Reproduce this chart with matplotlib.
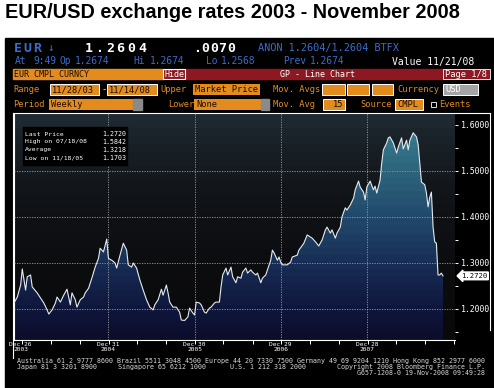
import numpy as np
import pandas as pd
import matplotlib
matplotlib.use('Agg')
import matplotlib.pyplot as plt
import matplotlib.dates as mdates
import matplotlib.transforms as mtransforms
from matplotlib.patches import Rectangle

# weekly EUR/USD closes
start = pd.Timestamp('2003-11-28')
end = pd.Timestamp('2008-11-14')
weeks = [
    0, 2, 4, 5, 7, 8, 10, 11, 14, 16,
    18, 20, 21, 23, 25, 26, 28, 30, 32, 34,
    35, 37, 38, 40, 42, 43, 45, 47, 49, 51,
    52, 54, 56, 57, 59, 61, 62, 64, 66, 68,
    69, 71, 72, 74, 76, 78, 80, 82, 84, 85,
    87, 89, 90, 92, 93, 94, 96, 98, 100, 101,
    103, 105, 106, 108, 109, 110, 112, 113, 115, 116,
    118, 119, 121, 122, 124, 125, 126, 128, 129, 131,
    132, 134, 135, 137, 138, 140, 141, 143, 144, 146,
    147, 149, 150, 152, 153, 155, 156, 157, 159, 160,
    161, 162, 165, 167, 168, 171, 172, 173, 175, 177,
    180, 182, 184, 186, 188, 189, 191, 192, 194, 195,
    197, 198, 200, 201, 203, 205, 206, 208, 209, 211,
    212, 213, 215, 217, 218, 219, 221, 222, 223, 225,
    226, 227, 229, 231, 232, 234, 235, 237, 238, 239,
    241, 243, 244, 245, 246, 248, 249, 250, 251, 252,
    253, 254, 255, 256, 257, 258, 259]
rates = [
    1.213, 1.226, 1.252, 1.287, 1.241, 1.270, 1.274, 1.248, 1.235, 1.224,
    1.213, 1.198, 1.189, 1.198, 1.213, 1.226, 1.215, 1.230, 1.243, 1.209,
    1.235, 1.220, 1.204, 1.220, 1.226, 1.235, 1.245, 1.267, 1.291, 1.310,
    1.332, 1.324, 1.352, 1.310, 1.306, 1.300, 1.289, 1.317, 1.343, 1.328,
    1.296, 1.291, 1.300, 1.289, 1.263, 1.241, 1.220, 1.204, 1.198, 1.209,
    1.220, 1.243, 1.230, 1.252, 1.235, 1.215, 1.204, 1.204, 1.193, 1.176,
    1.175, 1.183, 1.202, 1.191, 1.187, 1.215, 1.213, 1.209, 1.193, 1.191,
    1.202, 1.204, 1.213, 1.215, 1.215, 1.248, 1.274, 1.289, 1.274, 1.291,
    1.270, 1.257, 1.270, 1.267, 1.280, 1.289, 1.278, 1.285, 1.280, 1.274,
    1.278, 1.257, 1.267, 1.274, 1.285, 1.306, 1.328, 1.322, 1.306, 1.313,
    1.302, 1.296, 1.296, 1.302, 1.313, 1.317, 1.328, 1.333, 1.343, 1.361,
    1.354, 1.346, 1.337, 1.350, 1.372, 1.378, 1.365, 1.372, 1.354, 1.365,
    1.378, 1.400, 1.420, 1.415, 1.426, 1.441, 1.459, 1.478, 1.465, 1.454,
    1.437, 1.465, 1.478, 1.459, 1.467, 1.452, 1.480, 1.517, 1.546, 1.561,
    1.572, 1.574, 1.561, 1.539, 1.552, 1.572, 1.548, 1.567, 1.546, 1.567,
    1.583, 1.574, 1.557, 1.517, 1.476, 1.470, 1.452, 1.422, 1.443, 1.454,
    1.378, 1.346, 1.343, 1.274, 1.274, 1.278, 1.272]

y_major = [1.2, 1.3, 1.4, 1.5, 1.6]
y_minor = [1.15, 1.25, 1.35, 1.45, 1.55]
grid_levels = [1.2, 1.3, 1.4, 1.5]
label_dates = ['2003-12-26', '2004-12-31', '2005-12-30', '2006-12-29', '2007-12-28']
label_text = ['Dec 26\n2003', 'Dec 31\n2004', 'Dec 30\n2005', 'Dec 29\n2006', 'Dec 28\n2007']
legend_rows = [('Last Price', '1.2720'), ('High on 07/18/08', '1.5842'),
               ('Average', '1.3218'), ('Low on 11/18/05', '1.1703')]
last_tag = '1.2720'

W, H = 494, 388
mono = 'DejaVu Sans Mono'
blue = '#3b6cc9'
orange = '#e48b1e'
dred = '#8e1822'
boxtxt = '#1a0c00'

fig = plt.figure(figsize=(W / 100, H / 100), dpi=100, facecolor='white')


def px_axes(z):
    a = fig.add_axes([0, 0, 1, 1], zorder=z)
    a.set_xlim(0, W)
    a.set_ylim(H, 0)
    a.axis('off')
    a.patch.set_alpha(0)
    return a


def spaced(a, x, y, s, pitch, **kw):
    for i, ch in enumerate(s):
        a.text(x + (i + 0.5) * pitch, y, ch, ha='center', va='center', **kw)


under = px_axes(0)
title = under.text(5, 12, 'EUR/USD exchange rates 2003 - November 2008', fontsize=13,
                   fontweight='bold', family='Liberation Sans', va='center', color='black')
fig.canvas.draw()
tw = title.get_window_extent().width
title.set_fontsize(13 * 453 / tw)

under.add_patch(Rectangle((5, 38), W - 5, H - 38, color='black'))

# header row 1
spaced(under, 13, 48, 'EUR', 9.5, color=blue, fontsize=9.5, fontweight='bold', family=mono)
under.text(47, 48, '\u2193', color=blue, fontsize=8, va='center', family=mono)
spaced(under, 83, 48, '1.2604', 10.7, color='white', fontsize=9.5, fontweight='bold', family=mono)
spaced(under, 193, 48, '.0070', 8.4, color='white', fontsize=9.5, fontweight='bold', family=mono)
under.text(258, 47.5, 'ANON 1.2604/1.2604 BTFX', color=blue, fontsize=7.4, family=mono, va='center')

# header row 2
for x, s in [(15, 'At'), (33, '9:49'), (59, 'Op'), (75, '1.2674'), (133, 'Hi'), (150, '1.2674'),
             (206, 'Lo'), (221, '1.2568'), (283, 'Prev'), (310, '1.2674')]:
    under.text(x, 61.5, s, color=blue, fontsize=6.9, family=mono, va='center')
under.text(392, 61.5, 'Value 11/21/08', color='white', fontsize=7.0, family=mono, va='center')

# header row 3
under.add_patch(Rectangle((13, 69.3), 150, 10, color=orange))
under.text(14, 74.3, 'EUR CMPL CURNCY', color=boxtxt, fontsize=6, family=mono, va='center')
under.add_patch(Rectangle((185, 69.3), 258, 10, color=dred))
under.add_patch(Rectangle((163, 69.3), 22, 10, fc=dred, ec='white', lw=0.8))
under.text(174, 74.3, 'Hide', color='white', fontsize=6, family=mono, va='center', ha='center')
under.text(317, 74.3, 'GP - Line Chart', color='white', fontsize=6, family=mono, va='center', ha='center')
under.add_patch(Rectangle((443, 69.3), 47, 10, fc=dred, ec='white', lw=0.6))
under.text(445, 74.3, 'Page 1/8', color='white', fontsize=6.3, family=mono, va='center')

# header row 4
r4, h4 = 84.3, 10.7
for x, s in [(13, 'Range'), (160, 'Upper'), (273, 'Mov. Avgs'), (397, 'Currency')]:
    under.text(x, r4 + h4 / 2, s, color=orange, fontsize=6.3, family=mono, va='center')
under.text(101, r4 + h4 / 2, '-', color='white', fontsize=6.3, family=mono, va='center')
for x, w, s, edge in [(50, 49, '11/28/03', 'white'), (107, 50, '11/14/08', 'white'),
                      (193, 67, 'Market Price', 'none'), (322, 23, '', 'white'),
                      (347, 22, '', 'white'), (372, 21, '', 'white')]:
    under.add_patch(Rectangle((x, r4), w, h4, fc=orange, ec=edge, lw=0.7))
    under.text(x + 2, r4 + h4 / 2, s, color=boxtxt, fontsize=6.3, family=mono, va='center')
under.add_patch(Rectangle((443, r4), 35, h4, fc='#a4a4a4', ec='white', lw=0.7))
under.text(445, r4 + h4 / 2, 'USD', color='white', fontsize=6.3, family=mono, va='center')

# header row 5
r5, h5 = 99, 10.5
for x, s in [(13, 'Period'), (168, 'Lower'), (273, 'Mov. Avg'), (360, 'Source'), (439, 'Events')]:
    under.text(x, r5 + h5 / 2, s, color=orange, fontsize=6.3, family=mono, va='center')
for x, w, s, edge in [(49, 84, 'Weekly', 'none'), (194, 67, 'None', 'none'),
                      (395, 28, 'CMPL', 'white')]:
    under.add_patch(Rectangle((x, r5), w, h5, fc=orange, ec=edge, lw=0.7))
    under.text(x + 2, r5 + h5 / 2, s, color=boxtxt, fontsize=6.3, family=mono, va='center')
under.add_patch(Rectangle((323, r5), 22, h5, fc=orange, ec='white', lw=0.7))
under.text(343, r5 + h5 / 2, '15', color=boxtxt, fontsize=6.3, family=mono, va='center', ha='right')
for x, w in [(133, 9), (261, 8)]:
    under.add_patch(Rectangle((x, r5), w, h5, color='#8a8a8a'))
under.add_patch(Rectangle((431, r5 + 2.5), 5, 5, fc='none', ec='white', lw=0.6))

# footer
foot = dict(color='#d8d8d8', fontsize=4.8, family=mono, va='center')
under.text(17, 361, 'Australia 61 2 9777 8600 Brazil 5511 3048 4500 Europe 44 20 7330 7500 '
           'Germany 49 69 9204 1210 Hong Kong 852 2977 6000', **foot)
under.text(17, 367, 'Japan 81 3 3201 8900', **foot)
under.text(118, 367, 'Singapore 65 6212 1000', **foot)
under.text(230, 367, 'U.S. 1 212 318 2000', **foot)
under.text(485, 367, 'Copyright 2008 Bloomberg Finance L.P.', ha='right', **foot)
under.text(485, 373, 'G657-1208-0 19-Nov-2008 09:49:28', ha='right', **foot)

# chart
ax = fig.add_axes([14 / W, 1 - 340 / H, 441 / W, 227 / H], zorder=1)
ax.set_facecolor('black')
dates = start + pd.to_timedelta(np.array(weeks) * 7, unit='D')
xlo = start
xhi = start + (end - start) * (441 / 429)
ylo, yhi = 1.1326, 1.626
x0n, x1n = mdates.date2num(xlo), mdates.date2num(xhi)


def banded(anchor_v, anchor_rgb, n):
    v = np.linspace(yhi, ylo, n)
    rgb = np.array(anchor_rgb) / 255
    return np.stack([np.interp(v, anchor_v, rgb[:, k]) for k in range(3)], axis=-1)[:, None, :]


bg = banded([1.13, 1.30, 1.45, 1.55, 1.63],
            [(9, 9, 11), (12, 13, 15), (17, 20, 24), (24, 31, 37), (31, 42, 50)], 30)
ax.imshow(bg, extent=(x0n, x1n, ylo, yhi), aspect='auto', interpolation='nearest', zorder=0.5)

poly = ax.fill_between(dates, rates, ylo, facecolor='none', edgecolor='none')
fill = banded([1.13, 1.20, 1.30, 1.40, 1.50, 1.62],
              [(11, 13, 42), (16, 23, 62), (24, 46, 86), (33, 73, 107), (45, 99, 124), (60, 128, 146)], 32)
im = ax.imshow(fill, extent=(x0n, x1n, ylo, yhi), aspect='auto', interpolation='nearest', zorder=2)
im.set_clip_path(poly.get_paths()[0], transform=ax.transData)

ax.plot(dates, rates, color='#e4eaee', lw=0.8, zorder=4)

gkw = dict(color='#9a9a9a', lw=0.6, ls=(0, (1.5, 1.5)), zorder=3)
for lv in grid_levels:
    ax.axhline(lv, **gkw)
for d in label_dates[1:]:
    ax.axvline(pd.Timestamp(d), **gkw)

ax.set_xlim(xlo, xhi)
ax.set_ylim(ylo, yhi)

ax.yaxis.tick_right()
ax.set_yticks(y_major)
ax.set_yticks(y_minor, minor=True)
ax.set_yticklabels(['{:.4f}'.format(v) for v in y_major])
ax.tick_params(axis='y', which='both', colors='white', direction='out', pad=1.5,
               labelsize=5.9, labelfontfamily=mono)
ax.tick_params(axis='y', which='major', length=2.5, width=0.7)
ax.tick_params(axis='y', which='minor', length=2, width=0.7)

ax.set_xticks([pd.Timestamp(d) for d in label_dates])
ax.set_xticklabels(label_text, linespacing=1.05)
ax.xaxis.set_minor_locator(mdates.MonthLocator(bymonth=[1, 5, 9]))
ax.tick_params(axis='x', which='major', length=0, pad=1.5, colors='white',
               labelsize=4.5, labelfontfamily=mono)
ax.tick_params(axis='x', which='minor', length=3, width=0.7, color='white', direction='out')

for side in ['top', 'right']:
    ax.spines[side].set_visible(False)
for side in ['left', 'bottom']:
    ax.spines[side].set_color('white')
    ax.spines[side].set_linewidth(0.8)

tr = mtransforms.blended_transform_factory(ax.transAxes, ax.transData)
ax.text(1.014, rates[-1], last_tag, transform=tr, ha='left', va='center', fontsize=5.2,
        family=mono, color='black', clip_on=False, zorder=6,
        bbox=dict(boxstyle='larrow,pad=0.12', fc='white', ec='white'))

# frame and legend box on top
over = px_axes(2)
fr = dict(color='white', lw=0.8)
over.plot([13, 490], [113, 113], **fr)
over.plot([13, 13], [113, 358], **fr)
over.plot([490, 490], [113, 330], **fr)
over.add_patch(Rectangle((23, 127), 104, 38, color='black'))
for i, (lab, val) in enumerate(legend_rows):
    yy = 134 + i * 8
    over.text(25, yy, lab, color='white', fontsize=4.6, family=mono, va='center')
    over.text(126, yy, val, color='white', fontsize=4.8, family=mono, va='center', ha='right')

fig.savefig('out.png', dpi=100, facecolor='white')
